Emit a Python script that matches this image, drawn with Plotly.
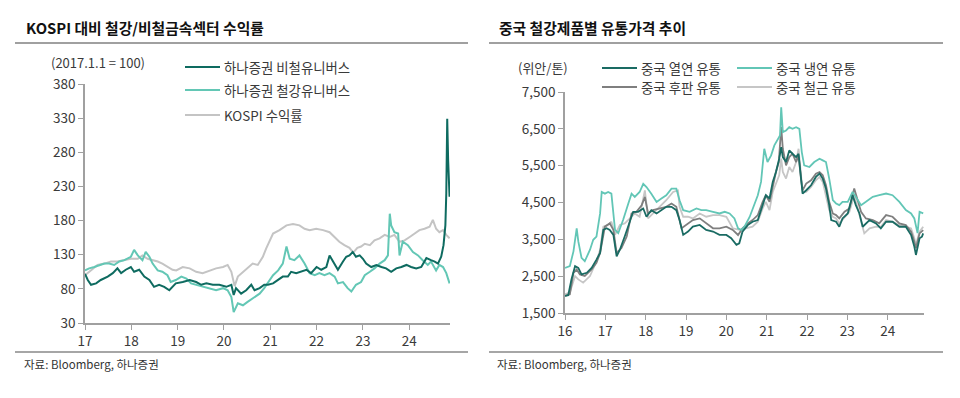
import plotly.graph_objects as go

FONT = "Noto Sans CJK KR"

# ---------------- Left chart: KOSPI vs steel / non-ferrous (2017.1.1 = 100) ----------------
left_names = ["하나증권 비철유니버스", "하나증권 철강유니버스", "KOSPI 수익률"]
left_colors = ["#0e6b60", "#63c7b5", "#c4c4c4"]
left_yticks = [30, 80, 130, 180, 230, 280, 330, 380]
left_xticks = [2017, 2018, 2019, 2020, 2021, 2022, 2023, 2024]
left_xticklabels = ["17", "18", "19", "20", "21", "22", "23", "24"]

kospi_x = [2017.00, 2017.13, 2017.27, 2017.42, 2017.56, 2017.70, 2017.85, 2017.99, 2018.14, 2018.24,
           2018.35, 2018.46, 2018.57, 2018.67, 2018.78, 2018.89, 2018.97, 2019.11, 2019.26, 2019.40,
           2019.54, 2019.69, 2019.83, 2019.98, 2020.08, 2020.16, 2020.23, 2020.30, 2020.41, 2020.51,
           2020.62, 2020.73, 2020.84, 2020.91, 2020.98, 2021.06, 2021.20, 2021.35, 2021.49, 2021.63,
           2021.74, 2021.85, 2021.99, 2022.14, 2022.28, 2022.39, 2022.49, 2022.60, 2022.71, 2022.79,
           2022.88, 2022.96, 2023.04, 2023.15, 2023.25, 2023.36, 2023.47, 2023.58, 2023.68, 2023.79,
           2023.90, 2024.01, 2024.12, 2024.22, 2024.33, 2024.44, 2024.51, 2024.58, 2024.65, 2024.73,
           2024.80, 2024.87]
kospi_y = [100, 107, 115, 117, 120, 120, 122, 124, 124, 129,
           124, 122, 120, 117, 112, 108, 107, 112, 110, 105,
           103, 107, 110, 112, 115, 105, 84, 98, 105, 110,
           117, 115, 127, 139, 150, 161, 166, 173, 175, 173,
           168, 166, 168, 166, 163, 156, 149, 144, 140, 133,
           140, 142, 146, 144, 151, 154, 159, 156, 159, 149,
           151, 156, 161, 166, 168, 171, 181, 168, 163, 166,
           159, 154]

nonfe_x = [2017.00, 2017.06, 2017.13, 2017.24, 2017.34, 2017.49, 2017.60, 2017.70, 2017.78, 2017.88,
           2017.99, 2018.06, 2018.17, 2018.28, 2018.39, 2018.49, 2018.60, 2018.71, 2018.82, 2018.89,
           2018.96, 2019.11, 2019.26, 2019.40, 2019.51, 2019.62, 2019.76, 2019.90, 2020.05, 2020.16,
           2020.21, 2020.26, 2020.37, 2020.48, 2020.59, 2020.66, 2020.77, 2020.87, 2020.95, 2021.06,
           2021.17, 2021.27, 2021.38, 2021.45, 2021.56, 2021.67, 2021.78, 2021.88, 2022.00, 2022.10,
           2022.21, 2022.28, 2022.35, 2022.46, 2022.57, 2022.64, 2022.71, 2022.78, 2022.85, 2022.93,
           2023.00, 2023.07, 2023.18, 2023.29, 2023.40, 2023.50, 2023.61, 2023.72, 2023.83, 2023.94,
           2024.04, 2024.15, 2024.26, 2024.37, 2024.47, 2024.55, 2024.62, 2024.69, 2024.74, 2024.78,
           2024.80, 2024.82, 2024.84, 2024.86, 2024.87]
nonfe_y = [102, 93, 86, 88, 93, 98, 103, 110, 103, 108,
           112, 105, 108, 98, 93, 83, 86, 83, 78, 83,
           88, 90, 93, 90, 86, 88, 86, 86, 83, 86,
           71, 81, 73, 78, 86, 78, 81, 86, 86, 88,
           93, 98, 98, 105, 103, 105, 108, 103, 112, 108,
           112, 129, 120, 108, 120, 127, 129, 134, 127, 129,
           124, 117, 112, 115, 112, 110, 105, 110, 112, 115,
           112, 110, 112, 125, 122, 120, 117, 127, 144, 173,
           220, 329, 268, 220, 215]

steel_x = [2017.00, 2017.09, 2017.20, 2017.31, 2017.42, 2017.52, 2017.63, 2017.74, 2017.85, 2017.99,
           2018.06, 2018.14, 2018.24, 2018.31, 2018.39, 2018.46, 2018.57, 2018.67, 2018.78, 2018.85,
           2018.96, 2019.08, 2019.19, 2019.29, 2019.40, 2019.54, 2019.69, 2019.83, 2019.98, 2020.08,
           2020.16, 2020.21, 2020.30, 2020.41, 2020.51, 2020.66, 2020.77, 2020.87, 2020.98, 2021.06,
           2021.17, 2021.27, 2021.35, 2021.42, 2021.52, 2021.63, 2021.74, 2021.85, 2021.96, 2022.06,
           2022.17, 2022.28, 2022.39, 2022.46, 2022.57, 2022.67, 2022.75, 2022.85, 2022.96, 2023.04,
           2023.15, 2023.25, 2023.36, 2023.47, 2023.54, 2023.58, 2023.61, 2023.68, 2023.76, 2023.79,
           2023.86, 2023.97, 2024.08, 2024.19, 2024.29, 2024.40, 2024.47, 2024.58, 2024.65, 2024.73,
           2024.80, 2024.87]
steel_y = [107, 110, 112, 115, 117, 117, 115, 120, 122, 127,
           137, 129, 122, 134, 127, 117, 107, 105, 100, 90,
           93, 98, 95, 88, 86, 83, 81, 78, 81, 78,
           68, 46, 59, 56, 61, 68, 73, 81, 93, 100,
           107, 117, 142, 124, 122, 129, 117, 103, 100, 103,
           100, 103, 98, 88, 90, 81, 76, 86, 90, 100,
           105, 110, 117, 122, 129, 190, 173, 163, 161, 129,
           149, 144, 134, 129, 122, 115, 120, 107, 115, 112,
           103, 88]

# ---------------- Right chart: China steel product distribution prices (CNY/t) ----------------
right_names = ["중국 열연 유통", "중국 냉연 유통", "중국 후판 유통", "중국 철근 유통"]
right_colors = ["#1a6b63", "#62c6b6", "#7f7f7f", "#c6c6c6"]
right_yticks = [1500, 2500, 3500, 4500, 5500, 6500, 7500]
right_xticks = [2016, 2017, 2018, 2019, 2020, 2021, 2022, 2023, 2024]
right_xticklabels = ["16", "17", "18", "19", "20", "21", "22", "23", "24"]

hr_x = [2016.00, 2016.08, 2016.16, 2016.25, 2016.33, 2016.41, 2016.54, 2016.66, 2016.78, 2016.87,
        2016.95, 2017.03, 2017.11, 2017.20, 2017.28, 2017.36, 2017.48, 2017.61, 2017.69, 2017.81,
        2017.94, 2018.02, 2018.14, 2018.27, 2018.39, 2018.51, 2018.64, 2018.76, 2018.84, 2018.93,
        2019.05, 2019.17, 2019.34, 2019.50, 2019.67, 2019.83, 2020.00, 2020.12, 2020.25, 2020.32,
        2020.40, 2020.53, 2020.65, 2020.78, 2020.90, 2020.98, 2021.07, 2021.15, 2021.23, 2021.31,
        2021.36, 2021.40, 2021.48, 2021.56, 2021.64, 2021.73, 2021.79, 2021.85, 2021.89, 2021.98,
        2022.10, 2022.22, 2022.31, 2022.39, 2022.47, 2022.55, 2022.60, 2022.72, 2022.80, 2022.88,
        2023.01, 2023.13, 2023.21, 2023.30, 2023.38, 2023.55, 2023.71, 2023.83, 2023.96, 2024.12,
        2024.29, 2024.45, 2024.58, 2024.66, 2024.70, 2024.79, 2024.85, 2024.88]
hr_y = [1965, 1983, 2413, 2771, 2726, 2547, 2592, 2726, 2950, 3129,
        3755, 3800, 3755, 3621, 3039, 3218, 3576, 4024, 4248, 4248,
        4337, 4113, 4292, 4203, 4292, 4382, 4382, 4292, 4024, 3621,
        3711, 3845, 3890, 3755, 3711, 3621, 3621, 3532, 3353, 3392,
        3707, 3887, 3977, 4022, 4428, 4698, 4608, 5059, 5329, 5689,
        6005, 5734, 5599, 5914, 5824, 5734, 5824, 5239, 4743, 4833,
        4968, 5194, 5284, 5149, 4878, 4428, 4022, 3977, 3842, 4068,
        4203, 4698, 4428, 4203, 3842, 4022, 3932, 3797, 3977, 3977,
        3842, 3842, 3617, 3302, 3076, 3527, 3572, 3662]

cr_x = [2016.00, 2016.12, 2016.21, 2016.29, 2016.33, 2016.41, 2016.49, 2016.62, 2016.70, 2016.78,
        2016.87, 2016.91, 2016.99, 2017.07, 2017.15, 2017.24, 2017.32, 2017.44, 2017.57, 2017.65,
        2017.73, 2017.85, 2017.94, 2018.02, 2018.14, 2018.27, 2018.39, 2018.51, 2018.64, 2018.76,
        2018.84, 2018.93, 2019.09, 2019.26, 2019.38, 2019.50, 2019.67, 2019.83, 2019.96, 2020.08,
        2020.20, 2020.29, 2020.37, 2020.45, 2020.58, 2020.70, 2020.78, 2020.86, 2020.94, 2021.02,
        2021.11, 2021.19, 2021.27, 2021.33, 2021.36, 2021.40, 2021.48, 2021.56, 2021.64, 2021.73,
        2021.81, 2021.87, 2021.93, 2022.06, 2022.18, 2022.31, 2022.39, 2022.47, 2022.55, 2022.64,
        2022.72, 2022.80, 2022.88, 2023.01, 2023.13, 2023.21, 2023.34, 2023.46, 2023.63, 2023.79,
        2023.96, 2024.12, 2024.29, 2024.45, 2024.58, 2024.66, 2024.74, 2024.79, 2024.85, 2024.88]
cr_y = [2726, 2771, 3174, 3800, 3442, 2995, 2905, 3218, 3487, 3576,
        4203, 4785, 4740, 4785, 4740, 3755, 3666, 4024, 4471, 4740,
        4650, 4785, 5008, 4919, 4740, 4516, 4606, 4695, 4874, 4874,
        4561, 4292, 4248, 4337, 4292, 4292, 4248, 4203, 4248, 4203,
        4069, 3800, 3755, 3845, 4113, 4471, 4695, 5059, 5960, 5599,
        5779, 6050, 6230, 6320, 7086, 6410, 6455, 6545, 6500, 6545,
        6500, 5869, 5509, 5464, 5599, 5689, 5644, 5599, 5149, 4563,
        4473, 4428, 4518, 4518, 4788, 4653, 4428, 4518, 4653, 4698,
        4743, 4698, 4518, 4293, 4203, 4068, 3670, 4248, 4203, 4203]

pl_x = [2016.00, 2016.12, 2016.21, 2016.29, 2016.37, 2016.49, 2016.66, 2016.78, 2016.87, 2016.99,
        2017.11, 2017.20, 2017.28, 2017.40, 2017.53, 2017.65, 2017.77, 2017.90, 2017.98, 2018.06,
        2018.18, 2018.35, 2018.51, 2018.64, 2018.76, 2018.89, 2019.01, 2019.17, 2019.34, 2019.50,
        2019.67, 2019.83, 2020.00, 2020.16, 2020.29, 2020.40, 2020.53, 2020.65, 2020.78, 2020.90,
        2020.98, 2021.07, 2021.15, 2021.23, 2021.30, 2021.36, 2021.40, 2021.48, 2021.56, 2021.64,
        2021.73, 2021.79, 2021.85, 2021.89, 2021.98, 2022.10, 2022.22, 2022.31, 2022.39, 2022.47,
        2022.55, 2022.64, 2022.72, 2022.80, 2022.93, 2023.05, 2023.17, 2023.26, 2023.34, 2023.46,
        2023.63, 2023.79, 2023.96, 2024.12, 2024.29, 2024.45, 2024.58, 2024.66, 2024.70, 2024.79,
        2024.88]
pl_y = [1965, 2010, 2592, 2681, 2547, 2502, 2681, 2860, 3129, 3845,
        3934, 3755, 3129, 3263, 3576, 4203, 4248, 4427, 4650, 4203,
        4292, 4337, 4382, 4471, 4382, 3800, 3890, 4024, 4069, 3934,
        3800, 3800, 3845, 3755, 3617, 3797, 3932, 4022, 4158, 4518,
        4698, 4518, 4968, 5329, 5599, 6545, 5960, 5509, 5734, 5824,
        5599, 5779, 5149, 4833, 5014, 5104, 5284, 5329, 5239, 4968,
        4518, 4203, 4158, 4068, 4248, 4338, 4878, 4518, 4248, 4068,
        4022, 3932, 4158, 4113, 3932, 3887, 3707, 3437, 3257, 3662,
        3752]

rb_x = [2016.00, 2016.12, 2016.25, 2016.33, 2016.45, 2016.62, 2016.78, 2016.87, 2016.95, 2017.07,
        2017.15, 2017.24, 2017.36, 2017.48, 2017.61, 2017.73, 2017.85, 2017.98, 2018.06, 2018.18,
        2018.35, 2018.51, 2018.68, 2018.80, 2018.84, 2018.93, 2019.05, 2019.17, 2019.34, 2019.50,
        2019.67, 2019.83, 2020.00, 2020.16, 2020.33, 2020.49, 2020.65, 2020.78, 2020.90, 2020.98,
        2021.07, 2021.15, 2021.23, 2021.31, 2021.36, 2021.40, 2021.48, 2021.56, 2021.64, 2021.73,
        2021.79, 2021.85, 2021.89, 2021.98, 2022.10, 2022.22, 2022.31, 2022.39, 2022.47, 2022.55,
        2022.64, 2022.72, 2022.80, 2022.93, 2023.05, 2023.17, 2023.26, 2023.34, 2023.42, 2023.55,
        2023.71, 2023.83, 2023.96, 2024.12, 2024.29, 2024.45, 2024.58, 2024.66, 2024.70, 2024.79,
        2024.88]
rb_y = [2010, 2055, 2502, 2413, 2323, 2502, 2905, 3218, 3845, 3890,
        3979, 3621, 3890, 3934, 4069, 4203, 4113, 4829, 4069, 4203,
        4382, 4561, 4785, 4829, 4382, 4113, 4113, 4069, 4203, 4113,
        4158, 4158, 4113, 3800, 3755, 3800, 3842, 3977, 4338, 4518,
        4293, 4788, 5014, 5239, 5689, 5329, 5149, 5464, 5329, 5599,
        5960, 5239, 4788, 4788, 4923, 5104, 5194, 5059, 4698, 4293,
        4113, 4068, 3932, 4113, 4248, 4698, 4338, 4022, 3662, 3797,
        3842, 3842, 4022, 3977, 3887, 3842, 3797, 3527, 3347, 3707,
        3842]

W, H = 960, 398


def px(x):
    return x / W


def py(y):
    return 1 - y / H


fig = go.Figure()

# left series (drawn KOSPI first so sector lines sit on top)
for xs, ys, i in [(kospi_x, kospi_y, 2), (steel_x, steel_y, 1), (nonfe_x, nonfe_y, 0)]:
    fig.add_trace(go.Scatter(x=xs, y=ys, mode="lines", name=left_names[i],
                             line=dict(color=left_colors[i], width=2),
                             xaxis="x", yaxis="y", showlegend=False))

# right series
for xs, ys, i in [(rb_x, rb_y, 3), (pl_x, pl_y, 2), (cr_x, cr_y, 1), (hr_x, hr_y, 0)]:
    fig.add_trace(go.Scatter(x=xs, y=ys, mode="lines", name=right_names[i],
                             line=dict(color=right_colors[i], width=1.8),
                             xaxis="x2", yaxis="y2", showlegend=False))

tickfont = dict(family=FONT, size=13.5, color="#3a3a3a")
axis_common = dict(showline=True, linecolor="#a0a0a0", linewidth=1.5, ticks="outside",
                   ticklen=5, tickcolor="#a0a0a0", tickwidth=1.2, showgrid=False,
                   zeroline=False, tickfont=tickfont, fixedrange=True, automargin=False)

fig.update_layout(
    template="none",
    width=W, height=H, autosize=False,
    margin=dict(l=0, r=0, t=0, b=0, pad=0, autoexpand=False),
    showlegend=False,
    paper_bgcolor="white", plot_bgcolor="white",
    font=dict(family=FONT),
    xaxis=dict(domain=[px(85), px(450)], range=[2017, 2024.88], tickvals=left_xticks,
               ticktext=left_xticklabels, anchor="y", **axis_common),
    yaxis=dict(domain=[py(323), py(84)], range=[30, 380], tickvals=left_yticks,
               anchor="x", **axis_common),
    xaxis2=dict(domain=[px(565), px(924)], range=[2016, 2024.9], tickvals=right_xticks,
                ticktext=right_xticklabels, anchor="y2", **axis_common),
    yaxis2=dict(domain=[py(313), py(92)], range=[1500, 7500], tickvals=right_yticks,
                tickformat=",", anchor="x2", **axis_common),
)

shapes = []
annotations = []

# titles & separators
for x0, x1, title, tx in [(15, 468, "KOSPI 대비 철강/비철금속섹터 수익률", 24),
                          (489, 943, "중국 철강제품별 유통가격 추이", 497)]:
    annotations.append(dict(x=px(tx), y=py(27), xref="paper", yref="paper", text=f"<b>{title}</b>",
                            showarrow=False, xanchor="left", yanchor="middle",
                            font=dict(family=FONT, size=14.8, color="#111")))
    shapes.append(dict(type="line", xref="paper", yref="paper", x0=px(x0), x1=px(x1),
                       y0=py(43), y1=py(43), line=dict(color="#808080", width=1.3)))
    shapes.append(dict(type="line", xref="paper", yref="paper", x0=px(x0), x1=px(x1),
                       y0=py(352), y1=py(352), line=dict(color="#a6a6a6", width=2)))
    annotations.append(dict(x=px(tx - 2), y=py(364), xref="paper", yref="paper",
                            text="자료: Bloomberg, 하나증권", showarrow=False,
                            xanchor="left", yanchor="middle",
                            font=dict(family=FONT, size=11.5, color="#333")))

# unit labels
annotations.append(dict(x=px(49), y=py(62), xref="paper", yref="paper", text="(2017.1.1 = 100)",
                        showarrow=False, xanchor="left", yanchor="middle",
                        font=dict(family=FONT, size=13, color="#3a3a3a")))
annotations.append(dict(x=px(516), y=py(67), xref="paper", yref="paper", text="(위안/톤)",
                        showarrow=False, xanchor="left", yanchor="middle",
                        font=dict(family=FONT, size=13, color="#3a3a3a")))

# legends (drawn as keys)
legend_items = [
    (185, 67, left_names[0], left_colors[0]),
    (185, 90, left_names[1], left_colors[1]),
    (185, 115, left_names[2], left_colors[2]),
    (602, 68, right_names[0], right_colors[0]),
    (737, 68, right_names[1], right_colors[1]),
    (602, 87, right_names[2], right_colors[2]),
    (737, 87, right_names[3], right_colors[3]),
]
for lx, ly, name, col in legend_items:
    shapes.append(dict(type="line", xref="paper", yref="paper", x0=px(lx), x1=px(lx + 35),
                       y0=py(ly), y1=py(ly), line=dict(color=col, width=2.2)))
    annotations.append(dict(x=px(lx + 37), y=py(ly), xref="paper", yref="paper", text=name,
                            showarrow=False, xanchor="left", yanchor="middle",
                            font=dict(family=FONT, size=13.4, color="#3a3a3a")))

fig.update_layout(shapes=shapes, annotations=annotations)
fig.write_html("out.html", config={"displayModeBar": False},
               post_script="document.body.style.margin='0';")
